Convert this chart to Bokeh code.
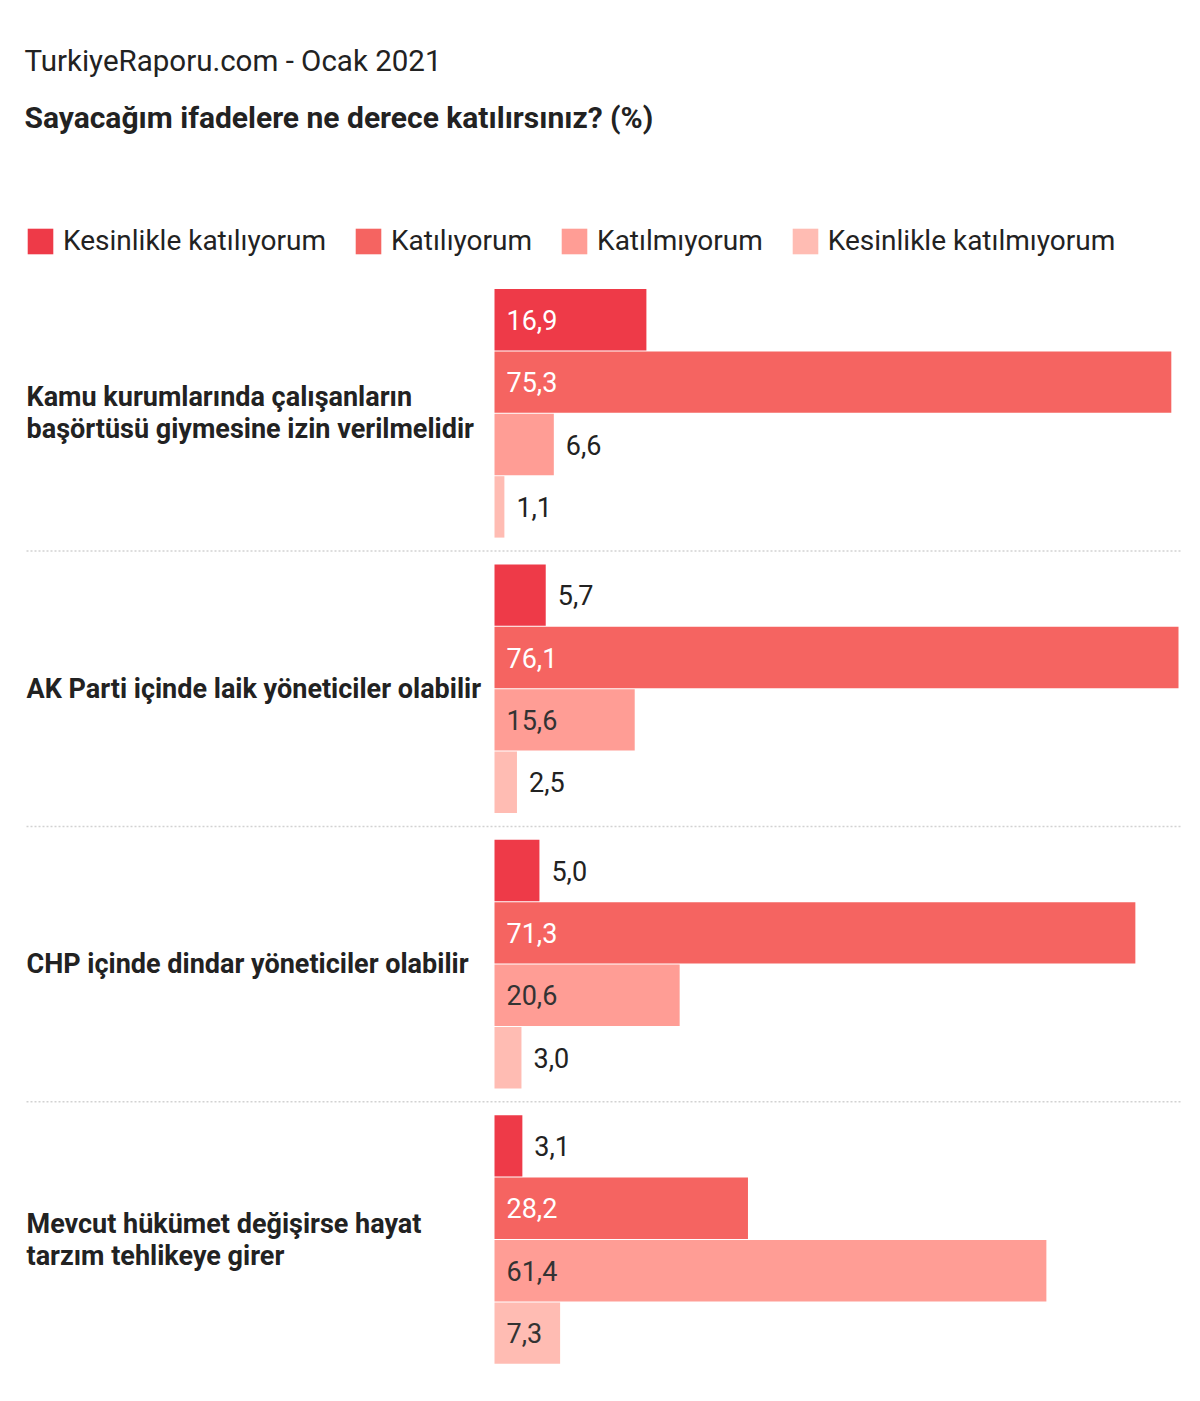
from bokeh.plotting import figure
from bokeh.models import ColumnDataSource, Range1d, Label, Legend, LegendItem
from bokeh.core.properties import value
from bokeh.embed import file_html
from bokeh.resources import INLINE

# --- data -----------------------------------------------------------------
statements = [
    "Kamu kurumlarında çalışanların\nbaşörtüsü giymesine izin verilmelidir",
    "AK Parti içinde laik yöneticiler olabilir",
    "CHP içinde dindar yöneticiler olabilir",
    "Mevcut hükümet değişirse hayat\ntarzım tehlikeye girer",
]
responses = [
    "Kesinlikle katılıyorum",
    "Katılıyorum",
    "Katılmıyorum",
    "Kesinlikle katılmıyorum",
]
kesinlikle_katiliyorum = [16.9, 5.7, 5.0, 3.1]
katiliyorum = [75.3, 76.1, 71.3, 28.2]
katilmiyorum = [6.6, 15.6, 20.6, 61.4]
kesinlikle_katilmiyorum = [1.1, 2.5, 3.0, 7.3]

title_text = "TurkiyeRaporu.com - Ocak 2021"
subtitle_text = "Sayacağım ifadelere ne derece katılırsınız? (%)"

# --- styling / layout -------------------------------------------------------
series = [kesinlikle_katiliyorum, katiliyorum, katilmiyorum, kesinlikle_katilmiyorum]
colors = ["#ee3a48", "#f56461", "#ff9d95", "#ffbcb3"]
inside_text_colors = ["#ffffff", "#ffffff", "#333333", "#333333"]
FONT = "Roboto"

W, H = 1200, 1401
BAR_LEFT_PX = 494          # where the value axis starts
PX_PER_UNIT = 684 / 76.1   # horizontal scale
Y0 = 288                   # top of first bar
BAR_STEP = 62.4
GROUP_STEP = 275.4
INSIDE_MIN = 7.0           # values at least this large are labelled inside the bar

x_start = -BAR_LEFT_PX / PX_PER_UNIT
x_end = (W - BAR_LEFT_PX) / PX_PER_UNIT

p = figure(width=W, height=H, output_backend="svg", toolbar_location=None,
           x_range=Range1d(x_start, x_end), y_range=Range1d(H, 0),
           x_axis_location=None, y_axis_location=None, min_border=0)
p.outline_line_color = None
p.xgrid.visible = False
p.ygrid.visible = False
p.background_fill_color = "white"
p.border_fill_color = "white"

legend_items = []
lab_x, lab_y, lab_t, lab_c = [], [], [], []
for k, (vals, col) in enumerate(zip(series, colors)):
    ys = [Y0 + g * GROUP_STEP + k * BAR_STEP + BAR_STEP / 2 for g in range(len(statements))]
    src = ColumnDataSource(dict(y=ys, right=vals))
    r = p.hbar(y="y", left=0, right="right", height=BAR_STEP - 1, source=src,
               fill_color=col, line_color=None)
    legend_items.append(LegendItem(label=responses[k], renderers=[r]))
    for y, v in zip(ys, vals):
        txt = f"{v:.1f}".replace(".", ",")
        if v >= INSIDE_MIN:
            lab_x.append(0)
            lab_c.append(inside_text_colors[k])
        else:
            lab_x.append(v)
            lab_c.append("#222222")
        lab_y.append(y)
        lab_t.append(txt)

lab_src = ColumnDataSource(dict(x=lab_x, y=lab_y, text=lab_t, color=lab_c))
p.text(x="x", y="y", text="text", source=lab_src, text_color="color",
       x_offset=12, text_baseline="middle", text_align="left",
       text_font=value(FONT), text_font_size="27px")

# statement labels, left side
for g, s in enumerate(statements):
    cy = Y0 + g * GROUP_STEP + 2 * BAR_STEP
    lines = s.split("\n")
    n = len(lines)
    for i, line in enumerate(lines):
        ly = cy + (i - (n - 1) / 2) * 32
        p.add_layout(Label(x=26, y=ly, x_units="screen", y_units="data", text=line,
                           text_font=FONT, text_font_size="27px", text_font_style="bold",
                           text_color="#222222", text_baseline="middle"))

# dotted separators between statements
for g in range(1, len(statements)):
    sy = Y0 + g * GROUP_STEP - (GROUP_STEP - 4 * BAR_STEP) / 2
    p.segment(x0=(26 - BAR_LEFT_PX) / PX_PER_UNIT, x1=(1180 - BAR_LEFT_PX) / PX_PER_UNIT,
              y0=sy, y1=sy, line_color="#d2d2d2", line_width=1.5, line_dash="2 2")

# header texts
p.add_layout(Label(x=24, y=60, x_units="screen", y_units="data", text=title_text,
                   text_font=FONT, text_font_size="29.5px", text_color="#222222",
                   text_baseline="middle"))
p.add_layout(Label(x=24, y=117, x_units="screen", y_units="data", text=subtitle_text,
                   text_font=FONT, text_font_size="30px", text_font_style="bold",
                   text_color="#222222", text_baseline="middle"))

legend = Legend(items=legend_items, orientation="horizontal", location=(24, H - 257),
                glyph_width=32, glyph_height=32, label_standoff=7, spacing=26,
                padding=0, margin=0, border_line_color=None, background_fill_alpha=0,
                label_text_font=FONT, label_text_font_size="28px",
                label_text_color="#222222", label_height=32)
p.add_layout(legend)

open("out.html", "w").write(file_html(p, INLINE))
